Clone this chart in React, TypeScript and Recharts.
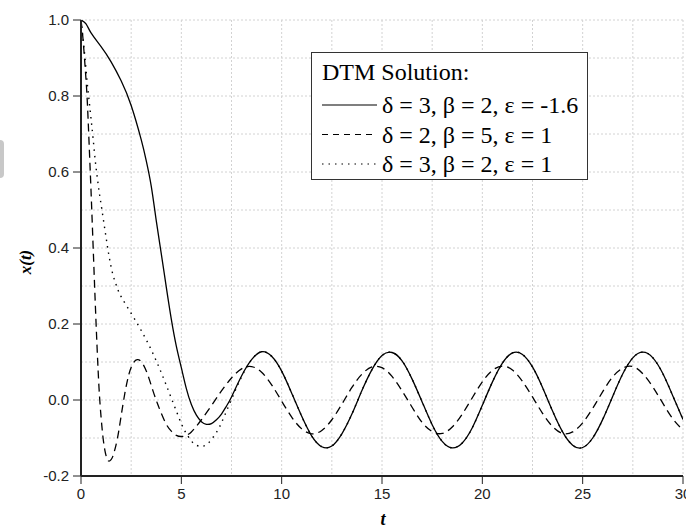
import { CartesianGrid, Line, LineChart, XAxis, YAxis } from "recharts";

// [t, x(t)]
const solid: [number, number][] = [
  [0, 1.0], [0.25, 0.99], [0.5, 0.966], [1, 0.93], [1.5, 0.89], [2, 0.84],
  [2.5, 0.775], [3, 0.685], [3.25, 0.63], [3.5, 0.563], [3.75, 0.472], [4, 0.385],
  [4.25, 0.297], [4.5, 0.213], [4.75, 0.142], [5, 0.085], [5.25, 0.03], [5.5, -0.012],
  [5.75, -0.04], [6, -0.057], [6.25, -0.064], [6.5, -0.062], [6.75, -0.052], [7, -0.037],
  [7.25, -0.016], [7.5, 0.008], [8, 0.063], [8.5, 0.106], [9, 0.127], [9.5, 0.115],
  [10, 0.076], [10.5, 0.018], [11, -0.043], [11.5, -0.095], [12, -0.123], [12.5, -0.121],
  [13, -0.089], [13.5, -0.037], [14, 0.025], [14.5, 0.08], [15, 0.117], [15.5, 0.125],
  [16, 0.103], [16.5, 0.055], [17, -0.005], [17.5, -0.065], [18, -0.109], [18.5, -0.126],
  [19, -0.113], [19.5, -0.073], [20, -0.014], [20.5, 0.047], [21, 0.097], [21.5, 0.124],
  [22, 0.12], [22.5, 0.087], [23, 0.033], [23.5, -0.029], [24, -0.084], [24.5, -0.119],
  [25, -0.125], [25.5, -0.1], [26, -0.051], [26.5, 0.01], [27, 0.069], [27.5, 0.111],
  [28, 0.126], [28.5, 0.111], [29, 0.069], [29.5, 0.01], [30, -0.051],
];

const dashed: [number, number][] = [
  [0, 1.0], [0.1, 0.95], [0.2, 0.88], [0.3, 0.8], [0.4, 0.68], [0.5, 0.55],
  [0.6, 0.41], [0.7, 0.27], [0.8, 0.14], [0.9, 0.03], [1, -0.045], [1.1, -0.1],
  [1.2, -0.135], [1.3, -0.155], [1.4, -0.161], [1.5, -0.157], [1.6, -0.146], [1.8, -0.105],
  [2, -0.042], [2.2, 0.022], [2.4, 0.07], [2.6, 0.097], [2.8, 0.106], [3, 0.101],
  [3.2, 0.083], [3.4, 0.055], [3.6, 0.022], [3.8, -0.008], [4, -0.035], [4.25, -0.064],
  [4.5, -0.082], [4.75, -0.093], [5, -0.096], [5.25, -0.093], [5.5, -0.084], [5.75, -0.069],
  [6, -0.052], [6.5, -0.015], [7, 0.024], [7.5, 0.058], [8, 0.082], [8.5, 0.088],
  [9, 0.073], [9.5, 0.04], [10, -0.003], [10.5, -0.045], [11, -0.076], [11.5, -0.089],
  [12, -0.08], [12.5, -0.052], [13, -0.011], [13.5, 0.033], [14, 0.068], [14.5, 0.087],
  [15, 0.085], [15.5, 0.062], [16, 0.024], [16.5, -0.019], [17, -0.059], [17.5, -0.083],
  [18, -0.088], [18.5, -0.071], [19, -0.037], [19.5, 0.006], [20, 0.048], [20.5, 0.078],
  [21, 0.089], [21.5, 0.079], [22, 0.049], [22.5, 0.008], [23, -0.035], [23.5, -0.07],
  [24, -0.088], [24.5, -0.084], [25, -0.06], [25.5, -0.022], [26, 0.022], [26.5, 0.061],
  [27, 0.084], [27.5, 0.088], [28, 0.069], [28.5, 0.034], [29, -0.009], [29.5, -0.05],
  [30, -0.079],
];

const dotted: [number, number][] = [
  [0, 1.0], [0.1, 0.95], [0.2, 0.9], [0.3, 0.84], [0.4, 0.79], [0.5, 0.74],
  [0.6, 0.69], [0.7, 0.635], [0.8, 0.59], [0.9, 0.55], [1, 0.515], [1.2, 0.445],
  [1.4, 0.378], [1.6, 0.328], [1.8, 0.296], [2, 0.272], [2.5, 0.228], [3, 0.183],
  [3.5, 0.132], [4, 0.072], [4.5, 0.005], [5, -0.062], [5.25, -0.088], [5.5, -0.108],
  [5.75, -0.119], [6, -0.122], [6.25, -0.118], [6.5, -0.104], [6.75, -0.085], [7, -0.06],
  [7.5, 0.002], [8, 0.061], [8.5, 0.106], [9, 0.127], [9.5, 0.115], [10, 0.076],
  [10.5, 0.018], [11, -0.043], [11.5, -0.095], [12, -0.123], [12.5, -0.121], [13, -0.089],
  [13.5, -0.037], [14, 0.025], [14.5, 0.08], [15, 0.117], [15.5, 0.125], [16, 0.103],
  [16.5, 0.055], [17, -0.005], [17.5, -0.065], [18, -0.109], [18.5, -0.126], [19, -0.113],
  [19.5, -0.073], [20, -0.014], [20.5, 0.047], [21, 0.097], [21.5, 0.124], [22, 0.12],
  [22.5, 0.087], [23, 0.033], [23.5, -0.029], [24, -0.084], [24.5, -0.119], [25, -0.125],
  [25.5, -0.1], [26, -0.051], [26.5, 0.01], [27, 0.069], [27.5, 0.111], [28, 0.126],
  [28.5, 0.111], [29, 0.069], [29.5, 0.01], [30, -0.051],
];

const xMajor = [0, 5, 10, 15, 20, 25, 30];
const xMinor = [0, 2.5, 5, 7.5, 10, 12.5, 15, 17.5, 20, 22.5, 25, 27.5, 30];
const yMajor = [-0.2, 0, 0.2, 0.4, 0.6, 0.8, 1.0];
const yMinor = [-0.2, -0.1, 0, 0.1, 0.2, 0.3, 0.4, 0.5, 0.6, 0.7, 0.8, 0.9, 1.0];

const legendTitle = "DTM Solution:";
const legendLabels = ["δ = 3, β = 2, ε = -1.6", "δ = 2, β = 5, ε = 1", "δ = 3, β = 2, ε = 1"];
const dashes = ["", "6 5", "1.5 5"];

const toRows = (pts: [number, number][]) => pts.map(([t, x]) => ({ t, x }));

const sans = "'Liberation Sans', Arial, sans-serif";
const serif = "'Liberation Serif', 'Times New Roman', serif";
const axisColor = "#222";
const tickStyle = { fill: "#222", fontSize: 15, fontFamily: sans };
const blank = () => "";

export default function App() {
  return (
    <div style={{ position: "absolute", left: 0, top: 0, width: 686, height: 531, background: "#fff", overflow: "hidden" }}>
      <LineChart width={686} height={531} margin={{ top: 20, right: 3, bottom: 25, left: 21 }}>
        {/* minor / frame axes first so they sit on the plot edges */}
        <XAxis xAxisId="xm" dataKey="t" type="number" domain={[0, 30]} ticks={xMinor} interval={0}
          height={0} tickSize={4} tickFormatter={blank} stroke={axisColor} allowDataOverflow />
        <XAxis xAxisId="xt" orientation="top" dataKey="t" type="number" domain={[0, 30]} ticks={xMinor}
          interval={0} height={0} mirror tickSize={6} tickFormatter={blank} stroke={axisColor}
          axisLine={{ strokeWidth: 2 }} allowDataOverflow />
        <YAxis yAxisId="ym" type="number" domain={[-0.2, 1]} ticks={yMinor} interval={0} width={0}
          tickSize={4} tickFormatter={blank} stroke={axisColor} allowDataOverflow />
        <YAxis yAxisId="yr" orientation="right" type="number" domain={[-0.2, 1]} ticks={yMinor}
          interval={0} width={0} mirror tickSize={4} tickFormatter={blank} stroke={axisColor}
          axisLine={{ strokeWidth: 2 }} allowDataOverflow />
        <CartesianGrid xAxisId="xm" yAxisId="ym" stroke="#d2d2d2" strokeDasharray="2 2" />
        <XAxis dataKey="t" type="number" domain={[0, 30]} ticks={xMajor} interval={0} height={30}
          tickSize={8} tickMargin={4} tick={tickStyle} stroke={axisColor}
          axisLine={{ strokeWidth: 2 }} allowDataOverflow />
        <YAxis type="number" domain={[-0.2, 1]} ticks={yMajor} interval={0} width={60}
          tickSize={8} tickMargin={4} tick={tickStyle} tickFormatter={(v: number) => v.toFixed(1)}
          stroke={axisColor} axisLine={{ strokeWidth: 2 }} allowDataOverflow />
        <Line data={toRows(solid)} dataKey="x" type="natural" stroke="#000" strokeWidth={1.3}
          dot={false} isAnimationActive={false} />
        <Line data={toRows(dashed)} dataKey="x" type="natural" stroke="#000" strokeWidth={1.3}
          strokeDasharray="8 5" dot={false} isAnimationActive={false} />
        <Line data={toRows(dotted)} dataKey="x" type="natural" stroke="#000" strokeWidth={1.4}
          strokeDasharray="1.5 5" dot={false} isAnimationActive={false} />
      </LineChart>

      <svg width={686} height={531} style={{ position: "absolute", left: 0, top: 0, pointerEvents: "none" }}>
        <rect x={311.5} y={52.5} width={276} height={127} fill="#fff" stroke="#333" strokeWidth={1} />
        <text x={322} y={80} fontFamily={serif} fontSize={24} fill="#000">{legendTitle}</text>
        {legendLabels.map((label, i) => {
          const base = 113 + i * 29.5;
          return (
            <g key={label}>
              <line x1={322} x2={377} y1={base - 8} y2={base - 8} stroke="#000" strokeWidth={1.2}
                strokeDasharray={dashes[i] || undefined} />
              <text x={382} y={base} fontFamily={serif} fontSize={24} fill="#000">{label}</text>
            </g>
          );
        })}
        <text x={0} y={0} transform="translate(31 262) rotate(-90)" textAnchor="middle" fontFamily={serif}
          fontSize={17} fontWeight="bold" fontStyle="italic" fill="#000">x(t)</text>
        <text x={383} y={525} textAnchor="middle" fontFamily={serif} fontSize={18} fontWeight="bold"
          fontStyle="italic" fill="#000">t</text>
      </svg>
      <div style={{ position: "absolute", left: 0, top: 140, width: 4, height: 38, background: "#c8c8c8", borderRadius: "0 4px 4px 0" }} />
    </div>
  );
}
